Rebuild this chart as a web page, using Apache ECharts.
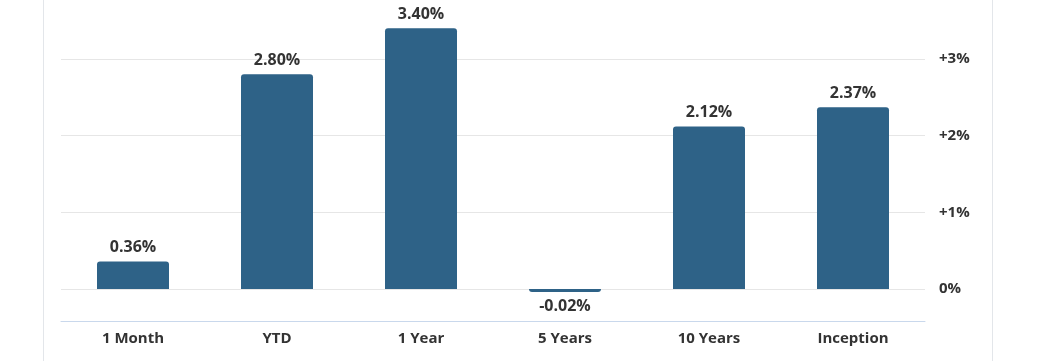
<!DOCTYPE html>
<html>
<head>
<meta charset="utf-8">
<script src="https://cdn.jsdelivr.net/npm/echarts@6/dist/echarts.min.js"></script>
<style>
html,body{margin:0;padding:0;background:#fff;}
#wrap{position:absolute;left:43px;top:0;width:948px;height:361px;border-left:1px solid #e3e6ea;border-right:1px solid #e3e6ea;}
#chart{width:1040px;height:361px;position:absolute;left:0;top:0;}
</style>
</head>
<body>
<div id="wrap"></div>
<div id="chart"></div>
<script>
const categories = ['1 Month', 'YTD', '1 Year', '5 Years', '10 Years', 'Inception'];
const values = [0.36, 2.80, 3.40, -0.02, 2.12, 2.37];
const yTicks = [0, 1, 2, 3];

const chart = echarts.init(document.getElementById('chart'));
const font = '"Open Sans", "Noto Sans", sans-serif';
chart.setOption({
  animation: false,
  grid: { left: 61, right: 115, top: 20.7, bottom: 72 },
  xAxis: {
    type: 'category',
    data: categories,
    offset: 32,
    axisLine: { show: true, onZero: false, lineStyle: { color: '#c9d8ec', width: 1 } },
    axisTick: { show: false },
    axisLabel: { color: '#333', fontWeight: 'bold', fontSize: 15, fontFamily: font, margin: 10 }
  },
  yAxis: {
    type: 'value',
    position: 'right',
    min: 0,
    max: 3.5,
    interval: 1,
    axisLine: { show: false },
    axisTick: { show: false },
    splitLine: { show: true, showMaxLine: false, lineStyle: { color: '#e6e6e6' } },
    axisLabel: {
      color: '#333', fontWeight: 'bold', fontSize: 15, fontFamily: font, margin: 14,
      showMaxLabel: false,
      formatter: v => yTicks.includes(v) ? (v > 0 ? '+' + v + '%' : v + '%') : ''
    }
  },
  series: [{
    type: 'bar',
    data: values.map(v => ({
      value: v,
      itemStyle: { borderRadius: v >= 0 ? [3, 3, 0, 0] : [0, 0, 3, 3] },
      label: { position: v >= 0 ? 'top' : 'bottom' }
    })),
    barWidth: '50%',
    barMinHeight: 3,
    clip: false,
    itemStyle: { color: '#2e6287' },
    label: {
      show: true,
      distance: 6,
      color: '#333',
      fontWeight: 'bold',
      fontSize: 16,
      fontFamily: font,
      formatter: p => p.value.toFixed(2) + '%'
    }
  }]
});
</script>
</body>
</html>
